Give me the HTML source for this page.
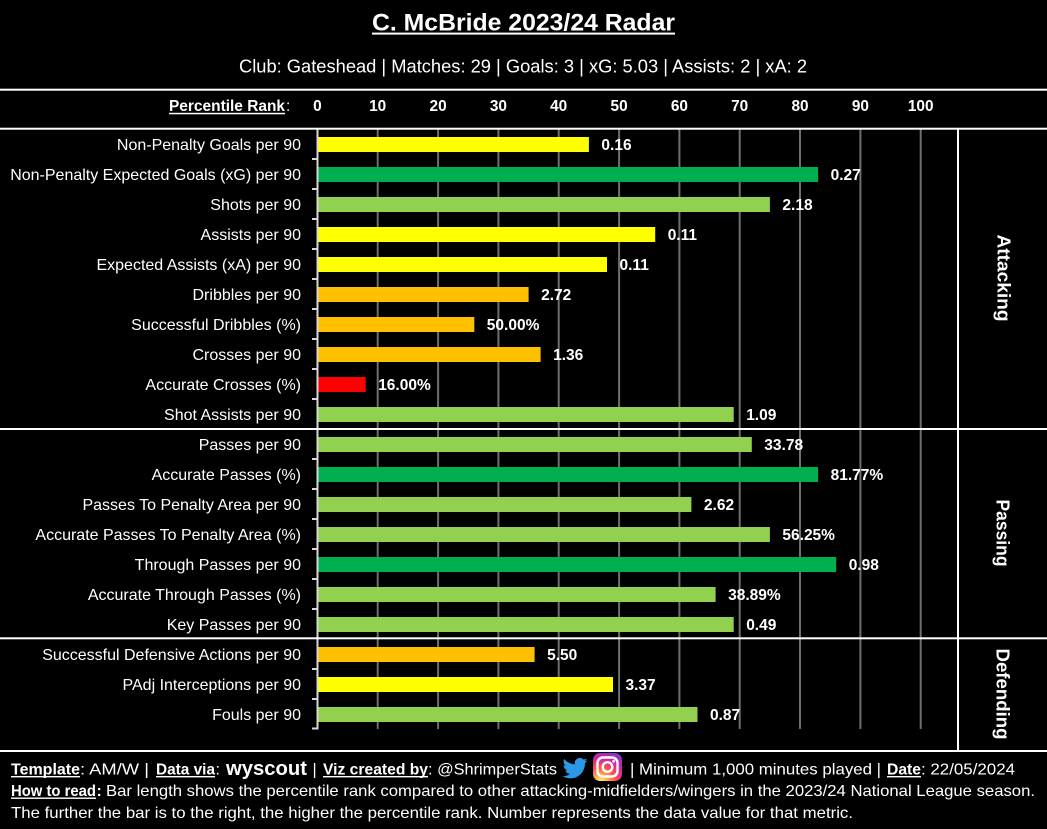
<!DOCTYPE html>
<html><head><meta charset="utf-8">
<style>
html,body{margin:0;padding:0;background:#000;}
svg{display:block;}
text{font-family:"Liberation Sans",Arial,sans-serif;fill:#fff;}
.b{font-weight:bold;}
.cat{font-size:16px;text-anchor:end;}
.val{font-size:15.5px;font-weight:bold;}
.tk{font-size:15.4px;font-weight:bold;text-anchor:middle;}
.ft{font-size:16px;}
.sec{font-size:18.5px;font-weight:bold;text-anchor:middle;dominant-baseline:central;}
</style></head>
<body>
<svg width="1047" height="829" viewBox="0 0 1047 829" xmlns="http://www.w3.org/2000/svg">
<rect width="1047" height="829" fill="#000"/>

<!-- Title -->
<text x="372" y="30.7" class="b" font-size="24.5" textLength="303" lengthAdjust="spacingAndGlyphs">C. McBride 2023/24 Radar</text>
<rect x="372" y="32.6" width="303" height="2" fill="#fff"/>
<text x="239" y="72.7" font-size="18.3" textLength="568" lengthAdjust="spacingAndGlyphs">Club: Gateshead | Matches: 29 | Goals: 3 | xG: 5.03 | Assists: 2 | xA: 2</text>

<!-- Header row -->
<text x="169" y="111" class="b" font-size="15.4" textLength="116" lengthAdjust="spacingAndGlyphs">Percentile Rank</text>
<rect x="169" y="112.8" width="116" height="1.5" fill="#fff"/>
<text x="286" y="111" font-size="15.4">:</text>
<text class="tk" x="317.4" y="111">0</text>
<text class="tk" x="377.7" y="111">10</text>
<text class="tk" x="438.1" y="111">20</text>
<text class="tk" x="498.4" y="111">30</text>
<text class="tk" x="558.7" y="111">40</text>
<text class="tk" x="619.1" y="111">50</text>
<text class="tk" x="679.4" y="111">60</text>
<text class="tk" x="739.7" y="111">70</text>
<text class="tk" x="800.0" y="111">80</text>
<text class="tk" x="860.4" y="111">90</text>
<text class="tk" x="920.7" y="111">100</text>

<!-- Gridlines -->
<g stroke="#6e6e6e" stroke-width="2">
<line x1="377.7" y1="129" x2="377.7" y2="729"/>
<line x1="438.1" y1="129" x2="438.1" y2="729"/>
<line x1="498.4" y1="129" x2="498.4" y2="729"/>
<line x1="558.7" y1="129" x2="558.7" y2="729"/>
<line x1="619.1" y1="129" x2="619.1" y2="729"/>
<line x1="679.4" y1="129" x2="679.4" y2="729"/>
<line x1="739.7" y1="129" x2="739.7" y2="729"/>
<line x1="800.0" y1="129" x2="800.0" y2="729"/>
<line x1="860.4" y1="129" x2="860.4" y2="729"/>
<line x1="920.7" y1="129" x2="920.7" y2="729"/>
</g>

<!-- Axis and ticks -->
<g stroke="#d9d9d9" stroke-width="2">
<line x1="317.5" y1="129" x2="317.5" y2="729.5"/>
<line x1="312" y1="159" x2="318" y2="159"/>
<line x1="312" y1="189" x2="318" y2="189"/>
<line x1="312" y1="219" x2="318" y2="219"/>
<line x1="312" y1="249" x2="318" y2="249"/>
<line x1="312" y1="279" x2="318" y2="279"/>
<line x1="312" y1="309" x2="318" y2="309"/>
<line x1="312" y1="339" x2="318" y2="339"/>
<line x1="312" y1="369" x2="318" y2="369"/>
<line x1="312" y1="399" x2="318" y2="399"/>
<line x1="312" y1="459" x2="318" y2="459"/>
<line x1="312" y1="489" x2="318" y2="489"/>
<line x1="312" y1="519" x2="318" y2="519"/>
<line x1="312" y1="549" x2="318" y2="549"/>
<line x1="312" y1="579" x2="318" y2="579"/>
<line x1="312" y1="609" x2="318" y2="609"/>
<line x1="312" y1="669" x2="318" y2="669"/>
<line x1="312" y1="699" x2="318" y2="699"/>
<line x1="312" y1="728.5" x2="318" y2="728.5"/>
</g>

<!-- Bars -->
<rect x="318.5" y="137" width="270.4" height="15" fill="#ffff00"/>
<rect x="318.5" y="167" width="499.6" height="15" fill="#00b050"/>
<rect x="318.5" y="197" width="451.4" height="15" fill="#92d050"/>
<rect x="318.5" y="227" width="336.7" height="15" fill="#ffff00"/>
<rect x="318.5" y="257" width="288.5" height="15" fill="#ffff00"/>
<rect x="318.5" y="287" width="210.1" height="15" fill="#ffc000"/>
<rect x="318.5" y="317" width="155.8" height="15" fill="#ffc000"/>
<rect x="318.5" y="347" width="222.1" height="15" fill="#ffc000"/>
<rect x="318.5" y="377" width="47.2" height="15" fill="#ff0000"/>
<rect x="318.5" y="407" width="415.2" height="15" fill="#92d050"/>
<rect x="318.5" y="437" width="433.3" height="15" fill="#92d050"/>
<rect x="318.5" y="467" width="499.6" height="15" fill="#00b050"/>
<rect x="318.5" y="497" width="372.9" height="15" fill="#92d050"/>
<rect x="318.5" y="527" width="451.4" height="15" fill="#92d050"/>
<rect x="318.5" y="557" width="517.7" height="15" fill="#00b050"/>
<rect x="318.5" y="587" width="397.1" height="15" fill="#92d050"/>
<rect x="318.5" y="617" width="415.2" height="15" fill="#92d050"/>
<rect x="318.5" y="647" width="216.1" height="15" fill="#ffc000"/>
<rect x="318.5" y="677" width="294.5" height="15" fill="#ffff00"/>
<rect x="318.5" y="707" width="379" height="15" fill="#92d050"/>

<!-- Values -->
<text class="val" x="601.4" y="150">0.16</text>
<text class="val" x="830.6" y="180">0.27</text>
<text class="val" x="782.4" y="210">2.18</text>
<text class="val" x="667.7" y="240">0.11</text>
<text class="val" x="619.5" y="270">0.11</text>
<text class="val" x="541.1" y="300">2.72</text>
<text class="val" x="486.8" y="330">50.00%</text>
<text class="val" x="553.1" y="360">1.36</text>
<text class="val" x="378.2" y="390">16.00%</text>
<text class="val" x="746.2" y="420">1.09</text>
<text class="val" x="764.3" y="450">33.78</text>
<text class="val" x="830.6" y="480">81.77%</text>
<text class="val" x="703.9" y="510">2.62</text>
<text class="val" x="782.4" y="540">56.25%</text>
<text class="val" x="848.7" y="570">0.98</text>
<text class="val" x="728.1" y="600">38.89%</text>
<text class="val" x="746.2" y="630">0.49</text>
<text class="val" x="547.1" y="660">5.50</text>
<text class="val" x="625.5" y="690">3.37</text>
<text class="val" x="710" y="720">0.87</text>

<!-- Category labels -->
<text class="cat" x="301" y="150">Non-Penalty Goals per 90</text>
<text class="cat" x="301" y="180">Non-Penalty Expected Goals (xG) per 90</text>
<text class="cat" x="301" y="210">Shots per 90</text>
<text class="cat" x="301" y="240">Assists per 90</text>
<text class="cat" x="301" y="270">Expected Assists (xA) per 90</text>
<text class="cat" x="301" y="300">Dribbles per 90</text>
<text class="cat" x="301" y="330">Successful Dribbles (%)</text>
<text class="cat" x="301" y="360">Crosses per 90</text>
<text class="cat" x="301" y="390">Accurate Crosses (%)</text>
<text class="cat" x="301" y="420">Shot Assists per 90</text>
<text class="cat" x="301" y="450">Passes per 90</text>
<text class="cat" x="301" y="480">Accurate Passes (%)</text>
<text class="cat" x="301" y="510">Passes To Penalty Area per 90</text>
<text class="cat" x="301" y="540">Accurate Passes To Penalty Area (%)</text>
<text class="cat" x="301" y="570">Through Passes per 90</text>
<text class="cat" x="301" y="600">Accurate Through Passes (%)</text>
<text class="cat" x="301" y="630">Key Passes per 90</text>
<text class="cat" x="301" y="660">Successful Defensive Actions per 90</text>
<text class="cat" x="301" y="690">PAdj Interceptions per 90</text>
<text class="cat" x="301" y="720">Fouls per 90</text>

<!-- Section dividers -->
<g fill="#fff">
<rect x="0" y="88.7" width="1047" height="2"/>
<rect x="0" y="127.7" width="1047" height="2"/>
<rect x="0" y="428" width="1047" height="2"/>
<rect x="0" y="637.3" width="1047" height="2"/>
<rect x="0" y="750" width="1047" height="2"/>
<rect x="957" y="128" width="2" height="623"/>
</g>

<!-- Section labels -->
<text class="sec" transform="translate(1004,278) rotate(90)" textLength="87" lengthAdjust="spacingAndGlyphs">Attacking</text>
<text class="sec" transform="translate(1003,533) rotate(90)" textLength="67" lengthAdjust="spacingAndGlyphs">Passing</text>
<text class="sec" transform="translate(1003,694) rotate(90)" textLength="91" lengthAdjust="spacingAndGlyphs">Defending</text>

<!-- Footer line 1 -->
<text class="ft b" x="11" y="774.5" textLength="69" lengthAdjust="spacingAndGlyphs">Template</text>
<rect x="11" y="776" width="69" height="1.4" fill="#fff"/>
<text class="ft" x="80" y="774.5" textLength="69" lengthAdjust="spacingAndGlyphs">: AM/W |</text>
<text class="ft b" x="156" y="774.5" textLength="59" lengthAdjust="spacingAndGlyphs">Data via</text>
<rect x="156" y="776" width="59" height="1.4" fill="#fff"/>
<text class="ft" x="215.5" y="774.5">:</text>
<text x="226" y="775" font-size="20" font-weight="900" textLength="81" lengthAdjust="spacingAndGlyphs" fill="#f2f2f2">wyscout</text>
<text class="ft" x="312.5" y="774.5">|</text>
<text class="ft b" x="323" y="774.5" textLength="105" lengthAdjust="spacingAndGlyphs">Viz created by</text>
<rect x="323" y="776" width="105" height="1.4" fill="#fff"/>
<text class="ft" x="428" y="774.5" textLength="129" lengthAdjust="spacingAndGlyphs">: @ShrimperStats</text>
<!-- twitter -->
<g transform="translate(561.5,755) scale(1.1)">
<path fill="#2a9ae8" d="M23.643 4.937c-.835.37-1.732.62-2.675.733.962-.576 1.7-1.49 2.048-2.578-.9.534-1.897.922-2.958 1.13-.85-.904-2.060-1.470-3.4-1.470-2.572 0-4.658 2.086-4.658 4.660 0 .364.042.718.12 1.060-3.873-.195-7.304-2.050-9.602-4.868-.4.690-.63 1.490-.63 2.342 0 1.616.823 3.043 2.072 3.878-.764-.025-1.482-.234-2.110-.583v.060c0 2.257 1.605 4.140 3.737 4.568-.392.106-.803.162-1.227.162-.3 0-.593-.028-.877-.082.593 1.850 2.313 3.198 4.352 3.234-1.595 1.250-3.604 1.995-5.786 1.995-.376 0-.747-.022-1.112-.065 2.062 1.323 4.510 2.093 7.140 2.093 8.570 0 13.255-7.098 13.255-13.254 0-.2-.005-.402-.014-.602.910-.658 1.700-1.477 2.323-2.410z"/>
</g>
<!-- instagram -->
<defs>
<radialGradient id="ig" cx="0.25" cy="1.05" r="1.3">
<stop offset="0" stop-color="#fdf497"/>
<stop offset="0.12" stop-color="#fdd15a"/>
<stop offset="0.4" stop-color="#fd5949"/>
<stop offset="0.65" stop-color="#d6249f"/>
<stop offset="0.95" stop-color="#6a3bd6"/>
</radialGradient>
</defs>
<rect x="593" y="753" width="29" height="28" rx="7" fill="url(#ig)"/>
<rect x="597.5" y="757.5" width="20" height="19" rx="5.5" fill="none" stroke="#fff" stroke-width="2.4"/>
<circle cx="607.5" cy="767" r="4.8" fill="none" stroke="#fff" stroke-width="2.4"/>
<circle cx="613.6" cy="761.3" r="1.4" fill="#fff"/>
<text class="ft" x="630" y="774.5" textLength="251" lengthAdjust="spacingAndGlyphs">| Minimum 1,000 minutes played |</text>
<text class="ft b" x="887" y="774.5" textLength="34" lengthAdjust="spacingAndGlyphs">Date</text>
<rect x="887" y="776" width="34" height="1.4" fill="#fff"/>
<text class="ft" x="921" y="774.5" textLength="94" lengthAdjust="spacingAndGlyphs">: 22/05/2024</text>

<!-- Footer line 2 -->
<text class="ft b" x="11" y="796" textLength="85" lengthAdjust="spacingAndGlyphs">How to read</text>
<rect x="11" y="797.5" width="85" height="1.4" fill="#fff"/>
<text class="ft b" x="96.5" y="796">:</text>
<text class="ft" x="106" y="796" textLength="929" lengthAdjust="spacingAndGlyphs">Bar length shows the percentile rank compared to other attacking-midfielders/wingers in the 2023/24 National League season.</text>

<!-- Footer line 3 -->
<text class="ft" x="11" y="818" textLength="842" lengthAdjust="spacingAndGlyphs">The further the bar is to the right, the higher the percentile rank. Number represents the data value for that metric.</text>
</svg>
</body></html>
